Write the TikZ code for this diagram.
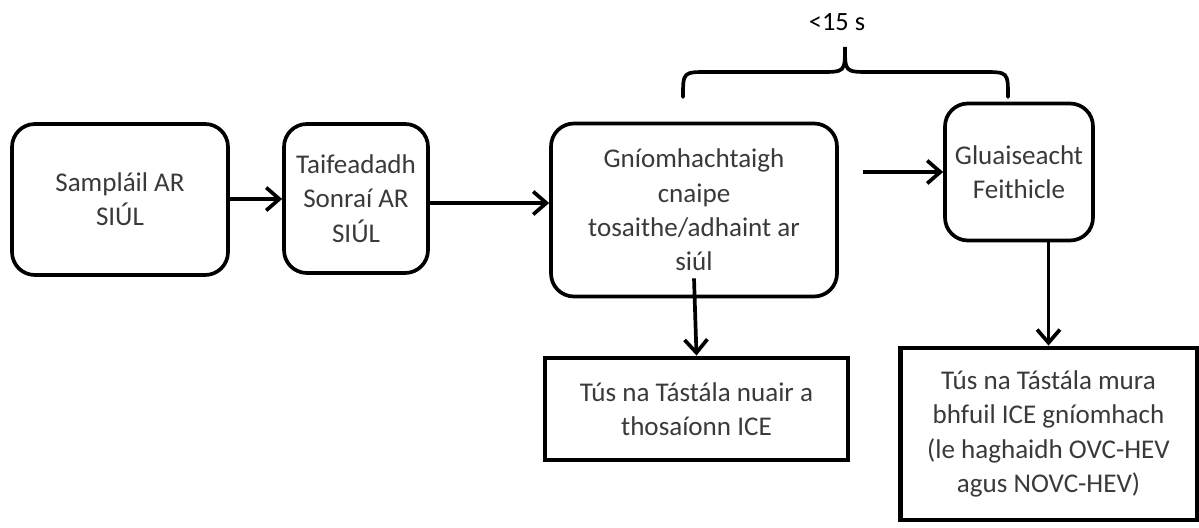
\documentclass[tikz,border=0pt]{standalone}
\usepackage{fontspec}
\setmainfont{Carlito}
\usetikzlibrary{arrows.meta,calc}
\definecolor{txt}{HTML}{3A3A3A}
\tikzset{
  px/.style={x=0.02cm,y=-0.02cm},
  rbox/.style={draw=black,line width=2.1pt,rounded corners=13pt,inner sep=0pt,align=center,text=txt,font=\fontsize{15.4}{19.5}\selectfont},
  sbox/.style={draw=black,line width=2.8pt,inner sep=0pt,align=center,text=txt,font=\fontsize{15.4}{19.5}\selectfont},
  arr/.style={line width=2.1pt,-{Straight Barb[length=7.5pt,width=13pt,line width=2.1pt]}},
  brace/.style={line width=2.1pt,line cap=round}
}
\begin{document}
\begin{tikzpicture}[px]
\useasboundingbox (0,0) rectangle (1199,527);
\node[rbox,minimum width=4.32cm,minimum height=3.02cm] (b1) at (120,199.5) {Sampláil AR\\SIÚL};
\node[rbox,minimum width=2.88cm,minimum height=2.98cm] (b2) at (356,198.5) {Taifeadadh\\Sonraí AR\\SIÚL};
\node[rbox,minimum width=5.72cm,minimum height=3.46cm] (b3) at (694,210) {Gníomhachtaigh\\cnaipe\\tosaithe/adhaint ar\\siúl};
\node[rbox,minimum width=2.96cm,minimum height=2.74cm] (b4) at (1019,172) {Gluaiseacht\\Feithicle};
\node[sbox,minimum width=6.06cm,minimum height=2.04cm] (b5) at (696.5,409) {Tús na Tástála nuair a\\thosaíonn ICE};
\node[sbox,minimum width=5.94cm,minimum height=3.44cm] (b6) at (1048.5,434) {Tús na Tástála mura\\bhfuil ICE gníomhach\\(le haghaidh OVC-HEV\\agus NOVC-HEV)};
\node[font=\fontsize{15}{16}\selectfont] (lbl) at (837,22) {<15 s};
\draw[arr] (b1.east |- 0,199) -- (b2.west |- 0,199);
\draw[arr] (b2.east |- 0,203) -- (b3.west |- 0,203);
\coordinate (s34) at ([xshift=0.48cm]b3.east |- b4.west);
\draw[arr] (s34) -- (b4.west);
\coordinate (s35) at ([yshift=0.4cm]b3.south);
\draw[arr] (s35) -- (b5.north);
\draw[arr] (b6.north |- b4.south) -- (b6.north);
\coordinate (brL) at (683,97);
\coordinate (brR) at (1008,97);
\coordinate (brT) at (845,47);
\draw[brace] (brL) .. controls (683,72) .. (708,72) -- (820,72) .. controls (845,72) .. (brT)
  .. controls (845,72) .. (870,72) -- (983,72) .. controls (1008,72) .. (brR);
\end{tikzpicture}
\end{document}
